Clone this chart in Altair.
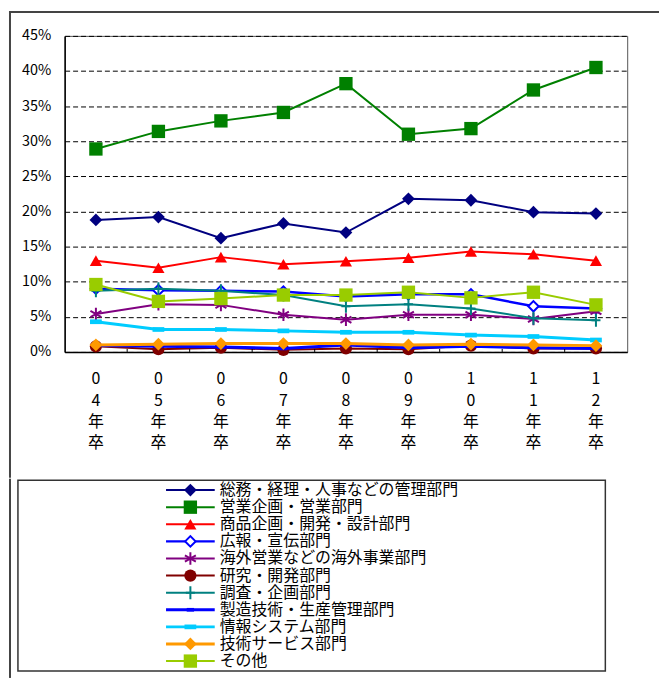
import altair as alt
import pandas as pd

years = ["04年卒", "05年卒", "06年卒", "07年卒", "08年卒", "09年卒", "10年卒", "11年卒", "12年卒"]

series_names = [
    "総務・経理・人事などの管理部門",
    "営業企画・営業部門",
    "商品企画・開発・設計部門",
    "広報・宣伝部門",
    "海外営業などの海外事業部門",
    "研究・開発部門",
    "調査・企画部門",
    "製造技術・生産管理部門",
    "情報システム部門",
    "技術サービス部門",
    "その他",
]

v_soumu = [18.8, 19.2, 16.2, 18.3, 17.0, 21.8, 21.6, 19.9, 19.7]
v_eigyo = [28.9, 31.4, 32.9, 34.1, 38.2, 31.0, 31.8, 37.3, 40.5]
v_shohin = [13.0, 12.0, 13.5, 12.5, 12.9, 13.4, 14.3, 13.9, 13.0]
v_koho = [9.0, 8.8, 8.7, 8.6, 7.9, 8.2, 8.2, 6.5, 6.2]
v_kaigai = [5.4, 6.8, 6.7, 5.3, 4.6, 5.3, 5.3, 4.7, 5.8]
v_kenkyu = [0.8, 0.4, 0.6, 0.3, 0.5, 0.4, 0.9, 0.5, 0.5]
v_chosa = [8.7, 9.0, 8.7, 8.1, 6.5, 6.8, 6.2, 4.8, 4.5]
v_seizo = [0.9, 0.8, 0.7, 0.5, 1.0, 0.6, 0.8, 0.6, 0.5]
v_joho = [4.3, 3.2, 3.2, 3.0, 2.8, 2.8, 2.4, 2.2, 1.7]
v_gijutsu = [1.0, 1.1, 1.2, 1.2, 1.2, 1.0, 1.1, 1.0, 0.9]
v_sonota = [9.6, 7.2, 7.6, 8.1, 8.1, 8.5, 7.7, 8.5, 6.7]

series_values = [v_soumu, v_eigyo, v_shohin, v_koho, v_kaigai, v_kenkyu,
                 v_chosa, v_seizo, v_joho, v_gijutsu, v_sonota]

y_ticks = [0, 5, 10, 15, 20, 25, 30, 35, 40, 45]

# ---- styles ----
colors = ["#000080", "#008000", "#FF0000", "#0000FF", "#800080", "#800000",
          "#008080", "#0000FF", "#00CCFF", "#FF9900", "#99CC00"]
line_widths = [2, 2, 2, 2.5, 2, 2, 2, 3, 3, 3, 2]

ASTER = "M0,-1L0,1M-0.87,-0.5L0.87,0.5M-0.87,0.5L0.87,-0.5"
PLUS = "M-0.7,0L0.7,0M0,-1L0,1"
DASH_S = "M-1,-0.5H1V0.5H-1Z"
DASH_W = "M-1,-0.4H1V0.4H-1Z"


def marker_kw(i):
    c = colors[i]
    styles = [
        dict(shape="diamond", filled=True, color=c, size=165),
        dict(shape="square", filled=True, color=c, size=180),
        dict(shape="triangle-up", filled=True, color=c, size=150),
        dict(shape="diamond", filled=True, fill="white", stroke=c, strokeWidth=2, size=110),
        dict(shape=ASTER, filled=False, stroke=c, strokeWidth=2, size=160),
        dict(shape="circle", filled=True, color=c, size=150),
        dict(shape=PLUS, filled=False, stroke=c, strokeWidth=2, size=170),
        dict(shape=DASH_S, filled=True, color=c, size=55),
        dict(shape=DASH_W, filled=True, color=c, size=140),
        dict(shape="diamond", filled=True, color=c, size=165),
        dict(shape="square", filled=True, color=c, size=180),
    ]
    kw = styles[i]
    kw["opacity"] = 1
    return kw


rows = []
for name, vals in zip(series_names, series_values):
    for yr, v in zip(years, vals):
        rows.append({"year": yr, "series": name, "value": v})
df = pd.DataFrame(rows)

FONT = "Noto Sans CJK JP"
W, H = 566, 318
FRAME = "#444"

x_scale = alt.Scale(domain=years, paddingInner=0, paddingOuter=0)
x_axis = alt.Axis(title=None, labelAngle=0, labelExpr="split(datum.value, '')",
                  labelFontSize=16, labelLineHeight=21.5, labelPadding=19,
                  labelBaseline="top", ticks=False, tickSize=0, domainColor="black",
                  domainWidth=1.5, labelColor="black", labelFont=FONT, grid=False)
y_scale = alt.Scale(domain=[0, 45], nice=False, zero=True)
y_axis = alt.Axis(title=None, values=y_ticks, labelExpr="datum.value + '%'",
                  grid=True, gridDash=[5, 3], gridColor="black", gridWidth=1,
                  ticks=False, tickSize=0, labelPadding=14, labelFontSize=14.5,
                  labelFont=FONT, labelColor="black", domainColor="black",
                  domainWidth=1.5)

x_enc = alt.X("year:N", sort=years, scale=x_scale, axis=x_axis)
y_enc = alt.Y("value:Q", scale=y_scale, axis=y_axis)

one = pd.DataFrame({"a": [0]})

layers = []
for i, name in enumerate(series_names):
    sub = alt.Chart(df).transform_filter(alt.datum.series == name)
    layers.append(sub.mark_line(color=colors[i], strokeWidth=line_widths[i]).encode(x=x_enc, y=y_enc))
    layers.append(sub.mark_point(**marker_kw(i)).encode(x=x_enc, y=y_enc))

tick_df = pd.DataFrame({"year": years[1:]})
ticks = alt.Chart(tick_df).mark_rule(color="black", strokeWidth=1).encode(
    x=alt.X("year:N", sort=years, scale=x_scale, axis=x_axis, bandPosition=0),
    y=alt.value(H - 3), y2=alt.value(H))

# outer frame (top and left edges), drawn as thin filled bars
frame_top = alt.Chart(one).mark_rect(color=FRAME).encode(
    x=alt.value(-56), x2=alt.value(598), y=alt.value(-25), y2=alt.value(-23))
frame_left = alt.Chart(one).mark_rect(color=FRAME).encode(
    x=alt.value(-56), x2=alt.value(-54), y=alt.value(-25), y2=alt.value(444.5))

main = alt.layer(*layers, ticks, frame_top, frame_left).properties(
    width=W, height=H, view=alt.ViewBackground(stroke="#555", strokeWidth=1))

# ---- legend ----
LX0, LX1, LH = -47, 544, 192
leg_df = pd.DataFrame({"series": series_names})
y_leg = alt.Y("series:N", sort=series_names,
              scale=alt.Scale(type="point", domain=series_names, padding=0.58), axis=None)

leg_box = alt.Chart(one).mark_rect(filled=False, stroke="#333", strokeWidth=1.5).encode(
    x=alt.value(LX0), x2=alt.value(LX1), y=alt.value(0), y2=alt.value(LH))

leg_layers = []
for i, name in enumerate(series_names):
    sub = alt.Chart(leg_df).transform_filter(alt.datum.series == name)
    leg_layers.append(sub.mark_rule(color=colors[i], strokeWidth=line_widths[i]).encode(
        x=alt.value(102), x2=alt.value(151), y=y_leg))
    leg_layers.append(sub.mark_point(**marker_kw(i)).encode(x=alt.value(126.5), y=y_leg))

leg_text = alt.Chart(leg_df).mark_text(align="left", baseline="middle", fontSize=16,
                                       font=FONT, color="black").encode(
    x=alt.value(156), y=y_leg, text="series:N")

leg_frame = alt.Chart(one).mark_rect(color=FRAME).encode(
    x=alt.value(-56), x2=alt.value(-54), y=alt.value(-1.5), y2=alt.value(199))

legend = alt.layer(leg_box, *leg_layers, leg_text, leg_frame).properties(
    width=W, height=LH, view=alt.ViewBackground(strokeOpacity=0))

chart = alt.vconcat(main, legend, spacing=0).properties(
    padding=0, background="white"
).configure_text(font=FONT)

chart.save("out.html", embed_options={"renderer": "svg", "actions": False})
